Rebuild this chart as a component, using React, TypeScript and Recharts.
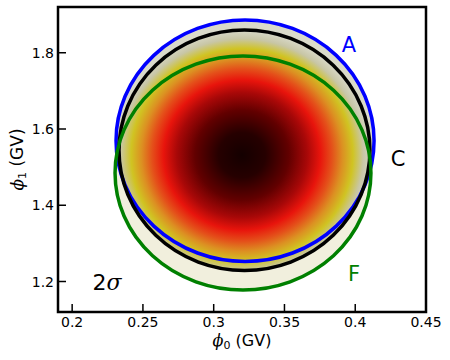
import React from 'react';
import { ComposedChart, XAxis, YAxis, ReferenceArea, ReferenceDot } from 'recharts';

const xDomain = [0.19, 0.45];
const yDomain = [1.12, 1.92];
const xTicks = [0.2, 0.25, 0.3, 0.35, 0.4, 0.45];
const yTicks = [1.2, 1.4, 1.6, 1.8];

// contour ellipses (data units): A, C, F
const contourNames = ['A', 'C', 'F'];
const contourX1 = [0.231, 0.2331, 0.2303];
const contourX2 = [0.4133, 0.4104, 0.4111];
const contourY1 = [1.2525, 1.2289, 1.1777];
const contourY2 = [1.8859, 1.8597, 1.7915];
const contourColors = ['#0000ff', '#000000', '#008000'];
const contourFills = ['#dadaca', '', '#f1efdd'];
const contourLabelX = [0.3956, 0.4302, 0.3991];
const contourLabelY = [1.8203, 1.5213, 1.2197];

// heat map extent (data units) and its peak offset within the extent
const heatX = [0.2331, 0.4104];
const heatY = [1.2289, 1.8597];
const heatPeak = [0.49, 0.52];

const sigmaText = '2σ';
const sigmaPos = [0.2246, 1.1987];

const FONT = 'DejaVu Sans';

const BottomTick = (p: any) => (
  <g>
    <line x1={p.x} y1={p.y} x2={p.x} y2={p.y - 8} stroke="#000" strokeWidth={1.5} />
    <text x={p.x} y={p.y + 15} textAnchor="middle" fontSize={14} fontFamily={FONT} fill="#000">
      {String(p.payload.value)}
    </text>
  </g>
);
const TopTick = (p: any) => (
  <line x1={p.x} y1={p.y} x2={p.x} y2={p.y + 8} stroke="#000" strokeWidth={1.5} />
);
const LeftTick = (p: any) => (
  <g>
    <line x1={p.x} y1={p.y} x2={p.x + 8} y2={p.y} stroke="#000" strokeWidth={1.5} />
    <text x={p.x - 4} y={p.y + 5} textAnchor="end" fontSize={14} fontFamily={FONT} fill="#000">
      {p.payload.value.toFixed(1)}
    </text>
  </g>
);
const RightTick = (p: any) => (
  <line x1={p.x} y1={p.y} x2={p.x - 8} y2={p.y} stroke="#000" strokeWidth={1.5} />
);

const ellipseShape = (stroke: string, fill: string, sw: number) => (p: any) => {
  const { x, y, width, height } = p;
  return (
    <ellipse
      cx={x + width / 2}
      cy={y + height / 2}
      rx={Math.abs(width) / 2}
      ry={Math.abs(height) / 2}
      fill={fill}
      stroke={stroke}
      strokeWidth={sw}
    />
  );
};

const heatShape = (p: any) => {
  const { x, y, width, height } = p;
  return (
    <g>
      <defs>
        <radialGradient id="heatGrad" cx={heatPeak[0]} cy={heatPeak[1]} r={0.52} fx={heatPeak[0]} fy={heatPeak[1]}>
          <stop offset="0%" stopColor="#140000" />
          <stop offset="18%" stopColor="#260000" />
          <stop offset="36%" stopColor="#620000" />
          <stop offset="50%" stopColor="#a80808" />
          <stop offset="60%" stopColor="#e8140c" />
          <stop offset="69%" stopColor="#e4501a" />
          <stop offset="77%" stopColor="#dc9022" />
          <stop offset="85%" stopColor="#d0c422" />
          <stop offset="93%" stopColor="#c8c6a6" />
          <stop offset="100%" stopColor="#d8d8c8" />
        </radialGradient>
      </defs>
      <ellipse
        cx={x + width / 2}
        cy={y + height / 2}
        rx={Math.abs(width) / 2}
        ry={Math.abs(height) / 2}
        fill="url(#heatGrad)"
      />
    </g>
  );
};

const textShape = (txt: string, color: string, size: number) => (p: any) => (
  <text
    x={p.cx}
    y={p.cy}
    textAnchor="middle"
    dominantBaseline="central"
    fontSize={size}
    fontFamily={FONT}
    fill={color}
  >
    {txt}
  </text>
);

const sigmaShape = (p: any) => (
  <text x={p.cx} y={p.cy} textAnchor="middle" dominantBaseline="central" fontSize={22} fontFamily={FONT} fill="#000">
    <tspan>{sigmaText[0]}</tspan>
    <tspan fontFamily="DejaVu Serif" fontStyle="italic">{sigmaText.slice(1)}</tspan>
  </text>
);

const XLabel = (props: any) => {
  const vb = props.viewBox;
  return (
    <text x={vb.x + vb.width / 2} y={vb.y + 34} textAnchor="middle" fontSize={16} fontFamily={FONT} fill="#000">
      <tspan fontFamily="DejaVu Serif" fontStyle="italic">ϕ</tspan>
      <tspan fontSize={11} dy={3}>0</tspan>
      <tspan dy={-3}> (GV)</tspan>
    </text>
  );
};

const YLabel = (props: any) => {
  const vb = props.viewBox;
  const cx = 23;
  const cy = vb.y + vb.height / 2;
  return (
    <text x={cx} y={cy} textAnchor="middle" fontSize={17} fontFamily={FONT} fill="#000" transform={`rotate(-90, ${cx}, ${cy})`}>
      <tspan fontFamily="DejaVu Serif" fontStyle="italic">ϕ</tspan>
      <tspan fontSize={11} dy={3}>1</tspan>
      <tspan dy={-3}> (GV)</tspan>
    </text>
  );
};

const fillOrder = [0, 2];
const strokeOrder = [0, 1, 2];

export default function App() {
  return (
    <div style={{ position: 'absolute', left: 0, top: 0, width: 450, height: 360, background: '#fff' }}>
      <ComposedChart width={450} height={360} data={[]} margin={{ top: 7, right: 24, bottom: 0, left: 0 }}>
        <XAxis
          type="number"
          dataKey="x"
          domain={xDomain}
          allowDataOverflow
          ticks={xTicks}
          interval={0}
          height={48}
          tickSize={0}
          tickMargin={0}
          axisLine={false}
          tickLine={false}
          tick={BottomTick}
          label={{ content: XLabel }}
        />
        <XAxis
          xAxisId="top"
          orientation="top"
          type="number"
          dataKey="x"
          domain={xDomain}
          allowDataOverflow
          ticks={xTicks}
          interval={0}
          height={0}
          tickSize={0}
          tickMargin={0}
          axisLine={false}
          tickLine={false}
          tick={TopTick}
        />
        <YAxis
          type="number"
          dataKey="y"
          domain={yDomain}
          allowDataOverflow
          ticks={yTicks}
          interval={0}
          width={58}
          tickSize={0}
          tickMargin={0}
          axisLine={false}
          tickLine={false}
          tick={LeftTick}
          label={{ content: YLabel }}
        />
        <YAxis
          yAxisId="right"
          orientation="right"
          type="number"
          dataKey="y"
          domain={yDomain}
          allowDataOverflow
          ticks={yTicks}
          interval={0}
          width={0}
          tickSize={0}
          tickMargin={0}
          axisLine={false}
          tickLine={false}
          tick={RightTick}
        />
        {fillOrder.map((i) => (
          <ReferenceArea
            key={`fill-${i}`}
            x1={contourX1[i]}
            x2={contourX2[i]}
            y1={contourY1[i]}
            y2={contourY2[i]}
            shape={ellipseShape('none', contourFills[i], 0)}
          />
        ))}
        <ReferenceArea x1={heatX[0]} x2={heatX[1]} y1={heatY[0]} y2={heatY[1]} shape={heatShape} />
        {strokeOrder.map((i) => (
          <ReferenceArea
            key={`stroke-${i}`}
            x1={contourX1[i]}
            x2={contourX2[i]}
            y1={contourY1[i]}
            y2={contourY2[i]}
            shape={ellipseShape(contourColors[i], 'none', 3.5)}
          />
        ))}
        {strokeOrder.map((i) => (
          <ReferenceDot
            key={`lab-${i}`}
            x={contourLabelX[i]}
            y={contourLabelY[i]}
            r={0}
            shape={textShape(contourNames[i], contourColors[i], 21)}
          />
        ))}
        <ReferenceDot x={sigmaPos[0]} y={sigmaPos[1]} r={0} shape={sigmaShape} />
        <ReferenceArea
          x1={xDomain[0]}
          x2={xDomain[1]}
          y1={yDomain[0]}
          y2={yDomain[1]}
          fill="none"
          fillOpacity={0}
          stroke="#000"
          strokeWidth={2.5}
        />
      </ComposedChart>
    </div>
  );
}
